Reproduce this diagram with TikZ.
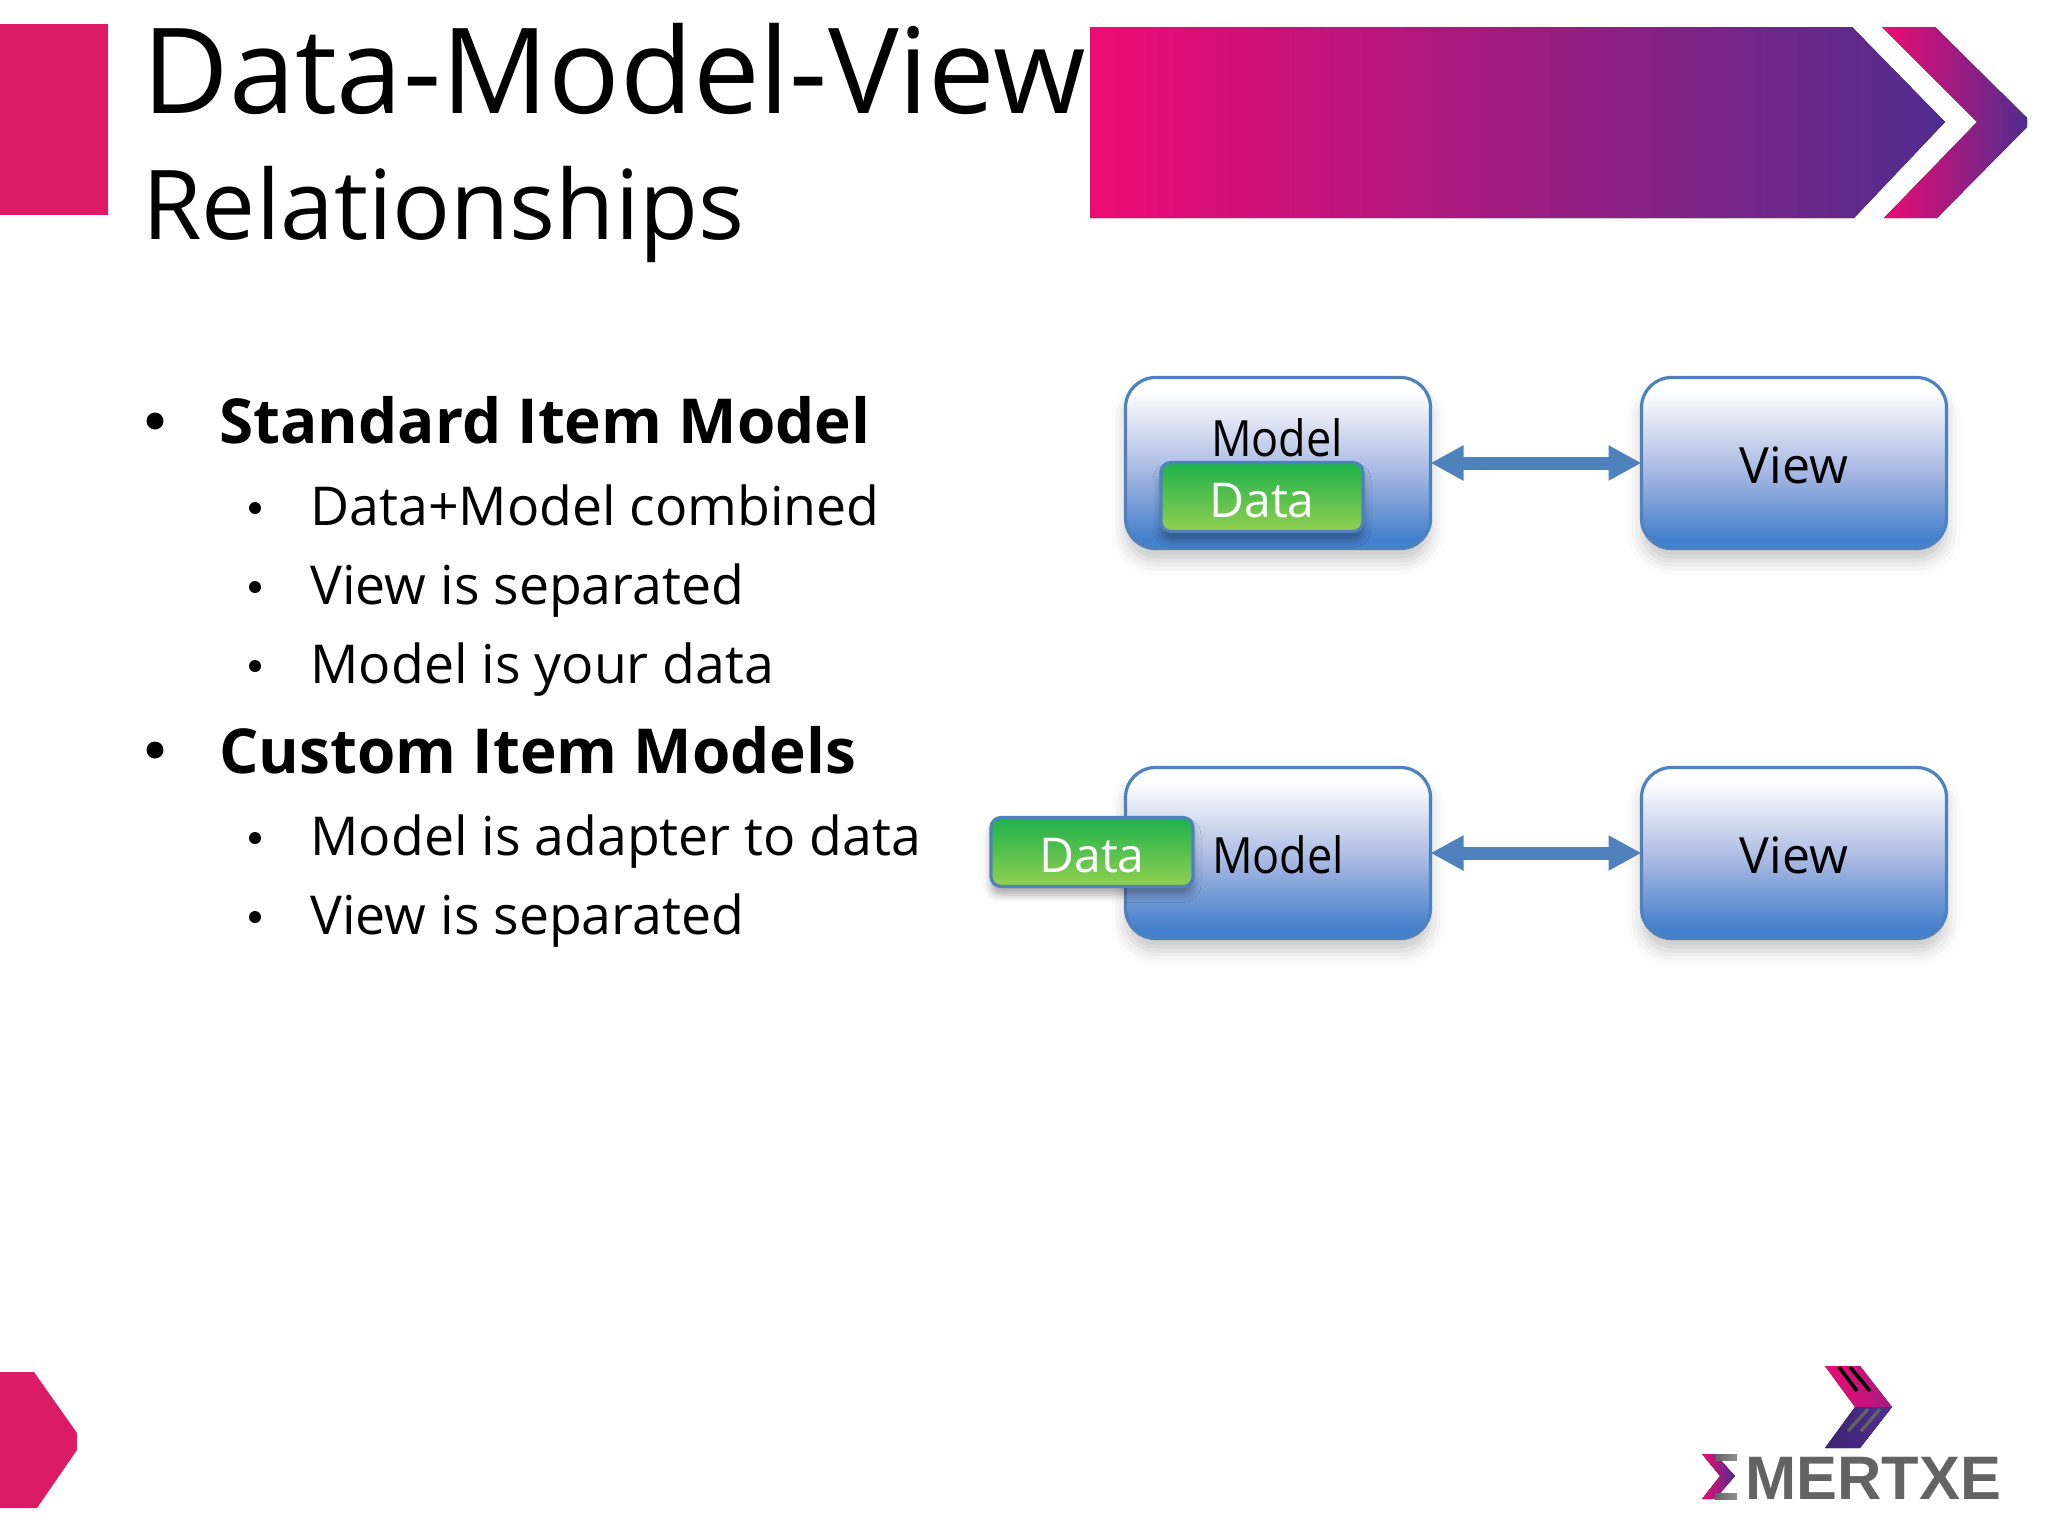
\documentclass[tikz,border=0pt]{standalone}
\usepackage{fontspec}
\setmainfont{Open Sans}
\newfontfamily\logofont{Liberation Sans}
\newfontfamily\tallfont[FakeStretch=0.9]{Open Sans}
\usepackage{tikz}
\usetikzlibrary{positioning}
\usetikzlibrary{arrows.meta}
\usetikzlibrary{shadows.blur}
\definecolor{pinkbar}{HTML}{DC1B66}
\definecolor{bannerpink}{HTML}{EE0A73}
\definecolor{bannermid}{HTML}{A81A80}
\definecolor{bannerblue}{HTML}{4F2D8F}
\definecolor{boxline}{HTML}{4F81BD}
\definecolor{boxmid}{HTML}{A9B9E2}
\definecolor{boxlow}{HTML}{4480CC}
\definecolor{datatop}{HTML}{1DB14B}
\definecolor{datalow}{HTML}{92D050}
\definecolor{logogrey}{HTML}{636363}
\pgfdeclareverticalshading{boxfade}{100bp}{color(0bp)=(boxlow); color(28bp)=(boxlow); color(48bp)=(boxmid); color(71bp)=(white); color(100bp)=(white)}
\tikzstyle{titlebig} = [anchor=base west, inner sep=0pt, font=\fontsize{59.4}{60}\selectfont]
\tikzstyle{titlesub} = [anchor=base west, inner sep=0pt, font=\fontsize{48.2}{48}\selectfont]
\tikzstyle{headitem} = [anchor=base west, inner sep=0pt, font=\fontsize{31}{31}\selectfont\bfseries]
\tikzstyle{subitem} = [anchor=base west, inner sep=0pt, font=\fontsize{26.8}{27}\selectfont]
\tikzstyle{dot} = [circle, inner sep=0pt, fill=black]
\tikzstyle{mvbox} = [rectangle, rounded corners=15pt, minimum width=152.5pt, minimum height=85.5pt, outer sep=0pt, draw=boxline, line width=1.6pt, shading=boxfade, text=black, text height=20pt, text depth=0pt, font=\fontsize{25}{25}\selectfont, blur shadow={shadow xshift=0pt, shadow yshift=-6pt, shadow blur radius=7pt, shadow opacity=22}]
\tikzstyle{databox} = [rectangle, rounded corners=5pt, minimum width=101pt, minimum height=34.5pt, outer sep=0pt, draw=boxline, line width=1.6pt, top color=datatop, bottom color=datalow, text=white, text height=20pt, text depth=0pt, font=\fontsize{24}{24}\selectfont, blur shadow={shadow xshift=0pt, shadow yshift=-4pt, shadow blur radius=4pt, shadow opacity=35}]
\tikzstyle{arrow} = [{Triangle[length=16.5pt,width=16.5pt]}-{Triangle[length=16.5pt,width=16.5pt]}, line width=6.5pt, draw=boxline]
\begin{document}
\begin{tikzpicture}[x=0.5pt, y=-0.5pt]
\useasboundingbox (0,0) rectangle (2048,1537);

% Header
\fill [pinkbar] (0,24) rectangle (108,215);
\fill [left color=bannerpink, middle color=bannermid, right color=bannerblue] (1090,27) -- (1852,27) -- (1945,122) -- (1854,218) -- (1090,218) -- cycle;
\fill [left color=bannerpink, right color=bannerblue] (1882,27) -- (1935,27) -- (2027,118) -- (2027,127) -- (1937,218) -- (1884,218) -- (1977,122) -- cycle;
\fill [pinkbar] (0,1372) -- (34,1372) -- (77,1433) -- (77,1450) -- (37,1508) -- (0,1508) -- cycle;

\node (title) [titlebig] at (142,113) {Data-Model-View};
\node (subtitle) [titlesub] at (142,239) {Relationships};

% Bullets
\node (std) [headitem] at (219,443) {Standard Item Model};
\node (stda) [subitem] at (310,525) {Data+Model combined};
\node (stdb) [subitem] at (310,604) {View is separated};
\node (stdc) [subitem] at (310,683) {Model is your data};
\node (cust) [headitem] at (219,773) {Custom Item Models};
\node (custa) [subitem] at (310,855) {Model is adapter to data};
\node (custb) [subitem] at (310,934) {View is separated};
\foreach \y in {421,750} \node [dot, minimum size=8.5pt] at (155,\y) {};
\foreach \y in {508,587,666,838,917} \node [dot, minimum size=6pt] at (255,\y) {};

% Boxes
\node (model1) [mvbox] at (1278,463) {};
\node (view1) [mvbox, right=105.5pt of model1] {View};
\node (model2) [mvbox, below=109.5pt of model1] {\tallfont Model};
\node (view2) [mvbox, right=105.5pt of model2] {View};
\node (data1) [databox] at (1262,497) {Data};
\node (data2) [databox] at (1092,852) {Data};
\node (label1) [anchor=base, inner sep=0pt, font=\tallfont\fontsize{25}{25}\selectfont] at (1277,456) {Model};

% Arrows
\draw [arrow] (model1) -- (view1);
\draw [arrow] (model2) -- (view2);

% Logo
\fill [left color=bannerpink, right color=bannermid] (1825,1366) -- (1860,1366) -- (1892,1407) -- (1855,1407) -- cycle;
\fill [left color=bannerblue!80!black, right color=bannerblue] (1855,1407) -- (1892,1407) -- (1860,1448) -- (1825,1448) -- cycle;
\draw [black, line width=1.8pt] (1839,1367) -- (1857,1391);
\draw [black, line width=1.8pt] (1850,1367) -- (1870,1391);
\draw [logogrey, line width=1.6pt] (1868,1409) -- (1848,1431);
\draw [logogrey, line width=1.6pt] (1880,1409) -- (1861,1431);
\fill [left color=bannerpink, right color=bannerblue] (1702,1454) -- (1715,1454) -- (1735,1476) -- (1715,1499) -- (1702,1499) -- (1720,1476) -- cycle;
\fill [left color=logogrey, right color=logogrey!70] (1715,1454) rectangle (1737,1460);
\fill [left color=logogrey, right color=logogrey!70] (1715,1493) rectangle (1737,1499);
\node (logo) [anchor=base west, inner sep=0pt, text=logogrey, font=\logofont\bfseries\fontsize{30.7}{30.7}\selectfont] at (1745,1499) {MERTXE};

\end{tikzpicture}
\end{document}
